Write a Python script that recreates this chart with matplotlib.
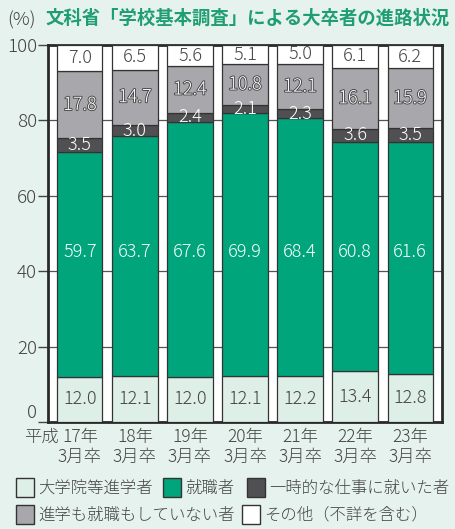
import numpy as np
import matplotlib
matplotlib.use('Agg')
import matplotlib.pyplot as plt
import matplotlib.patheffects as pe
from matplotlib.patches import Rectangle

plt.rcParams['font.family'] = ['Noto Sans CJK JP', 'DejaVu Sans']
plt.rcParams['font.weight'] = 'light'

years = ['17年\n3月卒', '18年\n3月卒', '19年\n3月卒', '20年\n3月卒',
         '21年\n3月卒', '22年\n3月卒', '23年\n3月卒']
grad_school = [12.0, 12.1, 12.0, 12.1, 12.2, 13.4, 12.8]
employed = [59.7, 63.7, 67.6, 69.9, 68.4, 60.8, 61.6]
temporary = [3.5, 3.0, 2.4, 2.1, 2.3, 3.6, 3.5]
neither = [17.8, 14.7, 12.4, 10.8, 12.1, 16.1, 15.9]
other = [7.0, 6.5, 5.6, 5.1, 5.0, 6.1, 6.2]

series_names = ['大学院等進学者', '就職者', '一時的な仕事に就いた者',
                '進学も就職もしていない者', 'その他（不詳を含む）']
colors = ['#deefe7', '#00a57b', '#505052', '#a8a8ac', '#ffffff']

bg = '#e6f2ed'
edge = '#333333'
text_dark = '#444444'

fig = plt.figure(figsize=(4.55, 5.29), dpi=100, facecolor=bg)
ax = fig.add_axes([48 / 455, 1 - 422 / 529, (442 - 48) / 455, (422 - 45) / 529])
ax.set_facecolor('white')

x = np.arange(len(years))
width = 0.82
data = [grad_school, employed, temporary, neither, other]
bottom = np.zeros(len(years))
rects = []
for vals, col in zip(data, colors):
    r = ax.bar(x, vals, width, bottom=bottom, color=col, edgecolor=edge,
               linewidth=0.9, zorder=3)
    rects.append(r)
    bottom = bottom + np.array(vals)

ax.set_xlim(-0.58, 6.58)
ax.set_ylim(0, 100)
ax.set_yticks([0, 20, 40, 60, 80, 100])
ax.set_yticklabels(['0', '20', '40', '60', '80', '100'])
ax.grid(axis='y', color='#555555', linewidth=0.9, zorder=0)
ax.tick_params(axis='y', length=7, width=1, color='#444444', labelsize=13.5,
               labelcolor=text_dark, pad=1)
ax.get_yticklabels()[0].set_va('bottom')  # the "0" sits just above its tick
ax.set_xticks(x)
ax.set_xticklabels(years, fontsize=12.5, color=text_dark, linespacing=1.2)
ax.tick_params(axis='x', length=0, pad=4)
for s in ax.spines.values():
    s.set_color('#2a2a2a')
    s.set_linewidth(2)
# "平成" prefix in front of the first year label
ax.annotate('平成', xy=(-0.39, 0), xycoords='data', xytext=(0, -11),
            textcoords='offset points', ha='right', va='center',
            fontsize=12.5, color=text_dark, annotation_clip=False)


def autolabel(rs, vals, ypos=None, color='white', outline=False):
    for rect, v in zip(rs, vals):
        cx = rect.get_x() + rect.get_width() / 2
        cy = rect.get_y() + rect.get_height() / 2 if ypos is None else ypos
        t = ax.text(cx, cy, '{:.1f}'.format(v), ha='center', va='center',
                    fontsize=13, color=color, zorder=5)
        if outline:
            t.set_path_effects([pe.withStroke(linewidth=1.3, foreground='#444444')])


autolabel(rects[0], grad_school, color=text_dark)
autolabel(rects[1], employed, ypos=45)
autolabel(rects[2], temporary)
autolabel(rects[3], neither, outline=True)
autolabel(rects[4], other, color=text_dark)

# title
fig.text(7 / 455, 1 - 20 / 529, '(%)', fontsize=13.5, color='#444444',
         ha='left', va='center')
fig.text(45 / 455, 1 - 18 / 529, '文科省「学校基本調査」による大卒者の進路状況',
         fontsize=13.2, color='#1f9e72', fontweight='bold', ha='left', va='center')

# legend
legend_pos = [(16, 488), (163, 488), (247, 488), (16, 515), (242, 515)]
for name, col, (lx, ly) in zip(series_names, colors, legend_pos):
    fig.patches.append(Rectangle((lx / 455, 1 - (ly + 9) / 529), 18 / 455, 19 / 529,
                                 transform=fig.transFigure, facecolor=col,
                                 edgecolor='#333333', linewidth=1))
    fig.text((lx + 22) / 455, 1 - ly / 529, name, fontsize=11.8, color=text_dark,
             ha='left', va='center')

fig.savefig('out.png', dpi=100, facecolor=bg)
